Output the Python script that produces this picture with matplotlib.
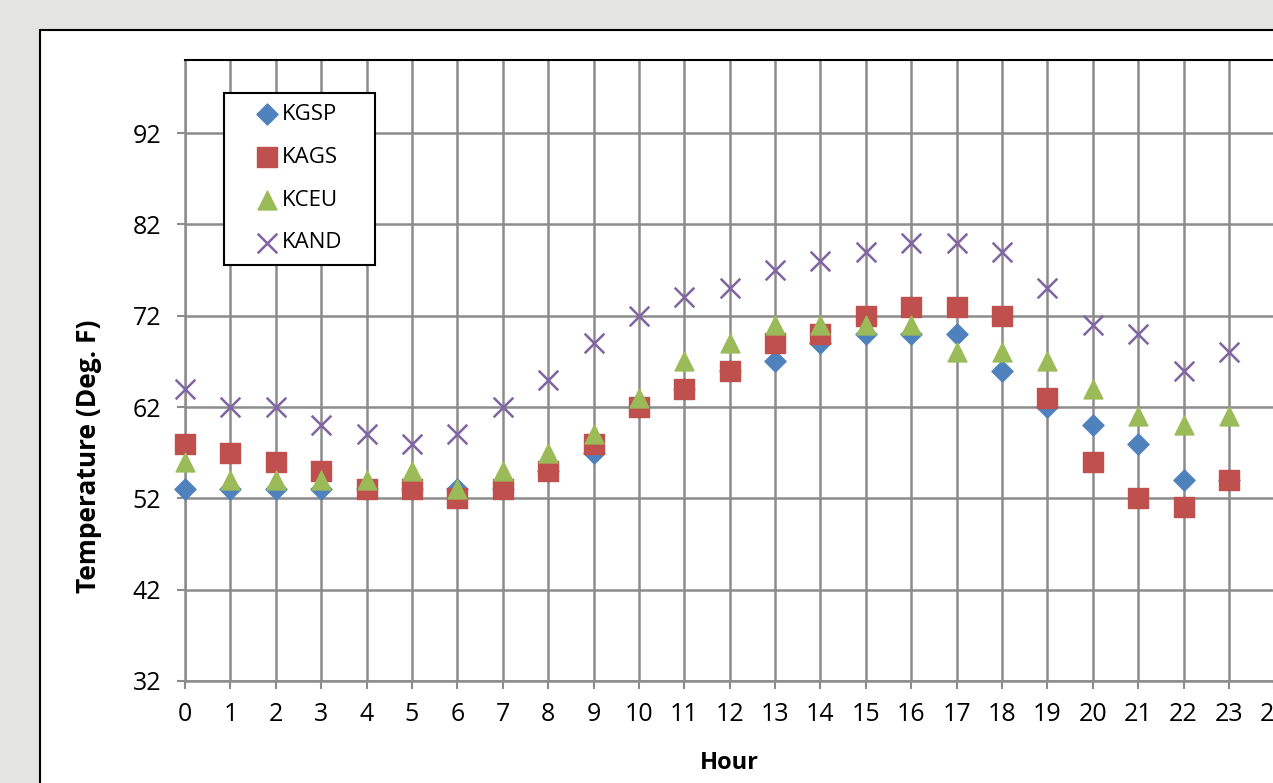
import numpy as np
import matplotlib.pyplot as plt
from matplotlib.patches import Rectangle

plt.rcParams["font.family"] = ["Open Sans", "DejaVu Sans"]

hours = list(range(24))
kgsp = [53, 53, 53, 53, 53, 53, 53, 53, 55, 57, 62, 64, 66, 67, 69, 70,
        70, 70, 66, 62, 60, 58, 54, 54]
kags = [58, 57, 56, 55, 53, 53, 52, 53, 55, 58, 62, 64, 66, 69, 70, 72,
        73, 73, 72, 63, 56, 52, 51, 54]
kceu = [56, 54, 54, 54, 54, 55, 53, 55, 57, 59, 63, 67, 69, 71, 71, 71,
        71, 68, 68, 67, 64, 61, 60, 61]
kand = [64, 62, 62, 60, 59, 58, 59, 62, 65, 69, 72, 74, 75, 77, 78, 79,
        80, 80, 79, 75, 71, 70, 66, 68]
y_ticks = [32, 42, 52, 62, 72, 82, 92]

W, H = 1273, 783
fig = plt.figure(figsize=(W / 100, H / 100), dpi=100)
fig.patch.set_facecolor("#e4e4e2")

# white chart area, runs off the right and bottom edges
fig.add_artist(Rectangle((40 / W, -0.05), 1.1, 1 - 30 / H + 0.05,
                         transform=fig.transFigure, facecolor="white",
                         edgecolor="black", linewidth=1.5, zorder=0))

ax_w = 24 * 45.39
ax_h = 681 - 60
ax = fig.add_axes([185 / W, 1 - 681 / H, ax_w / W, ax_h / H])
ax.set_facecolor("white")
ax.set_xlim(0, 24)
ax.set_ylim(32, 100)

grid_c = "#8c8c8c"
ax.set_xticks(range(25))
ax.set_yticks(y_ticks)
ax.grid(True, color=grid_c, linewidth=1.8)
ax.set_axisbelow(True)
for side in ["left", "bottom", "right"]:
    ax.spines[side].set_color(grid_c)
    ax.spines[side].set_linewidth(1.8)
ax.spines["top"].set_color("black")
ax.spines["top"].set_linewidth(1.5)
ax.tick_params(axis="both", direction="out", length=6, width=1.5,
               color=grid_c, labelsize=18)
ax.tick_params(axis="y", pad=11)
ax.tick_params(axis="x", pad=9)

ax.scatter(hours, kgsp, marker="D", s=115, color="#4F81BD", label="KGSP",
           zorder=3, clip_on=False)
ax.scatter(hours, kags, marker="s", s=210, color="#C0504D", label="KAGS",
           zorder=4, clip_on=False)
ax.scatter(hours, kceu, marker="^", s=185, color="#9BBB59", label="KCEU",
           zorder=5, clip_on=False)
ax.scatter(hours, kand, marker="x", s=200, color="#8064A2", linewidths=1.8,
           label="KAND", zorder=6, clip_on=False)

ax.set_xlabel("Hour", fontsize=17, fontweight="bold")
ax.xaxis.set_label_coords((729 - 185) / ax_w, (681 - 751) / ax_h)
ax.set_ylabel("Temperature (Deg. F)", fontsize=19, fontweight="bold")
ax.yaxis.set_label_coords((102 - 185) / ax_w, (681 - 456) / ax_h)

# legend box spans x 224..375, y 93..262 in the reference
leg = ax.legend(loc="upper left", mode="expand",
                bbox_to_anchor=((224 - 185) / ax_w, (681 - 262) / ax_h,
                                151 / ax_w, 169 / ax_h),
                fontsize=16, frameon=True, fancybox=False, edgecolor="black",
                framealpha=1, labelspacing=0.98, handletextpad=-0.8,
                borderpad=0.5, handlelength=2.9, borderaxespad=0)
leg.get_frame().set_linewidth(1.5)

fig.savefig("out.png", dpi=100)
